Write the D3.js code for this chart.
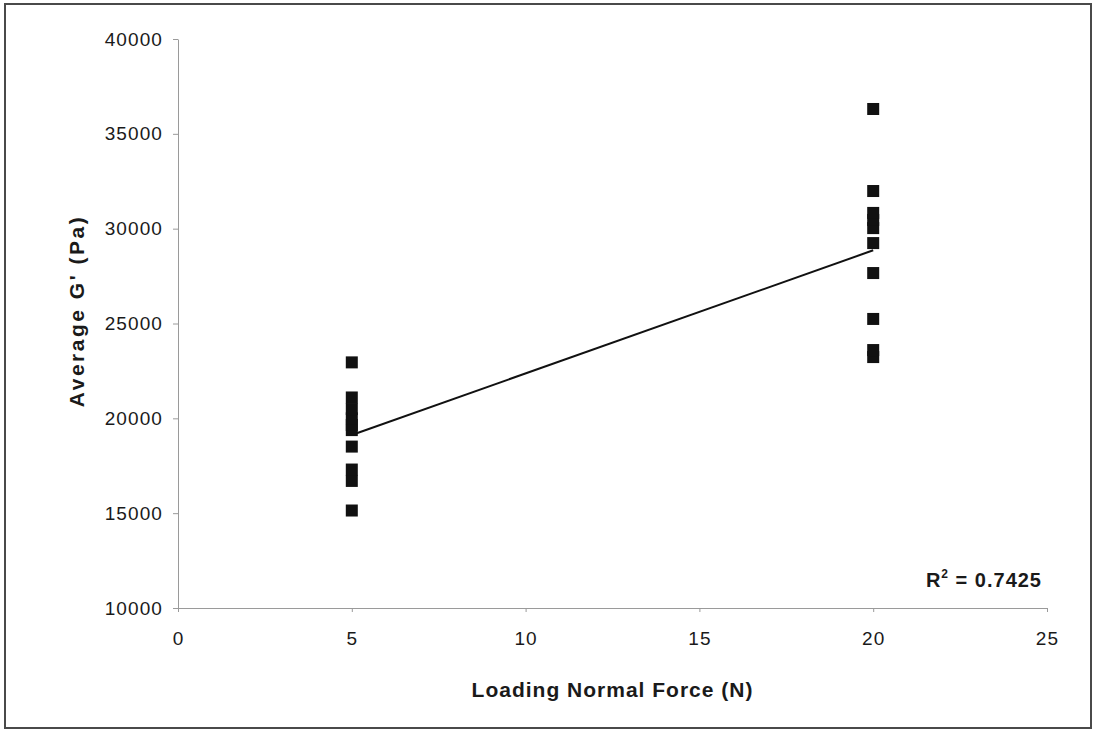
<!DOCTYPE html>
<html>
<head>
<meta charset="utf-8">
<script src="https://cdn.jsdelivr.net/npm/d3@7"></script>
<style>
  body { margin: 0; background: #fff; }
  svg text { font-family: "Liberation Sans", Arial, sans-serif; fill: #1a1a1a; }
</style>
</head>
<body>
<svg id="chart" width="1095" height="730"></svg>
<script>
// data
var forces = [5, 5, 5, 5, 5, 5, 5, 5, 5, 5,
              20, 20, 20, 20, 20, 20, 20, 20, 20, 20]
var moduli = [15140, 16700, 17300, 18510, 19380, 19650, 20000, 20490, 21100, 22950,
              23230, 23600, 25240, 27660, 29240, 30030, 30460, 30830, 31985, 36310]
var xTicks = [0, 5, 10, 15, 20, 25]
var yTicks = [10000, 15000, 20000, 25000, 30000, 35000, 40000]
var rSquared = '0.7425'

var svg = d3.select('#chart')
  , plotLeft = 178, plotRight = 1047, plotTop = 39, plotBottom = 608

// outer frame
svg.append('rect')
  .attr('x', 5).attr('y', 4)
  .attr('width', 1086).attr('height', 724)
  .attr('fill', 'none').attr('stroke', '#4a4a4a').attr('stroke-width', 2)

var x = d3.scaleLinear().domain([0, 25]).range([plotLeft, plotRight])
var y = d3.scaleLinear().domain([10000, 40000]).range([plotBottom, plotTop])

// axes
svg.append('g')
  .attr('transform', 'translate(' + plotLeft + ',0)')
  .call(d3.axisLeft(y).tickValues(yTicks).tickFormat(d3.format('d'))
    .tickSize(5).tickSizeOuter(0).tickPadding(10))
svg.append('g')
  .attr('transform', 'translate(0,' + plotBottom + ')')
  .call(d3.axisBottom(x).tickValues(xTicks).tickFormat(d3.format('d'))
    .tickSize(4).tickSizeOuter(0).tickPadding(20))

svg.selectAll('.domain, .tick line').attr('stroke', '#9a9a9a').attr('stroke-width', 1)
svg.selectAll('.tick text')
  .style('font-size', '19px')
  .style('letter-spacing', '1.1px')
  .style('font-family', '"Liberation Sans", Arial, sans-serif')
  .attr('fill', '#1a1a1a')

// least squares trendline
var n = forces.length
  , mx = d3.mean(forces)
  , my = d3.mean(moduli)
  , sxy = d3.sum(forces, function(f, i) { return (f - mx) * (moduli[i] - my) })
  , sxx = d3.sum(forces, function(f) { return (f - mx) * (f - mx) })
  , slope = sxy / sxx
  , intercept = my - slope * mx
  , xExt = d3.extent(forces)

svg.append('line')
  .attr('x1', x(xExt[0])).attr('y1', y(intercept + slope * xExt[0]))
  .attr('x2', x(xExt[1])).attr('y2', y(intercept + slope * xExt[1]))
  .attr('stroke', '#111').attr('stroke-width', 2)

// points
var size = 12
svg.append('g').selectAll('rect')
  .data(d3.range(n))
  .enter().append('rect')
  .attr('x', function(i) { return x(forces[i]) - size / 2 })
  .attr('y', function(i) { return y(moduli[i]) - size / 2 })
  .attr('width', size).attr('height', size)
  .attr('fill', '#111')

// R squared label
var r2 = svg.append('text')
  .attr('x', 1042).attr('y', 587)
  .attr('text-anchor', 'end')
  .style('font-size', '20px').style('font-weight', 'bold')
  .style('letter-spacing', '1px')
r2.append('tspan').text('R')
r2.append('tspan').attr('dy', -9).style('font-size', '12px').text('2')
r2.append('tspan').attr('dy', 9).text(' = ' + rSquared)

// axis titles
svg.append('text')
  .attr('x', (plotLeft + plotRight) / 2).attr('y', 697)
  .attr('text-anchor', 'middle')
  .style('font-size', '21px').style('font-weight', 'bold')
  .style('letter-spacing', '1px')
  .text('Loading Normal Force (N)')

svg.append('text')
  .attr('transform', 'translate(84,311) rotate(-90)')
  .attr('text-anchor', 'middle')
  .style('font-size', '21px').style('font-weight', 'bold')
  .style('letter-spacing', '2.5px')
  .text("Average G' (Pa)")
</script>
</body>
</html>
